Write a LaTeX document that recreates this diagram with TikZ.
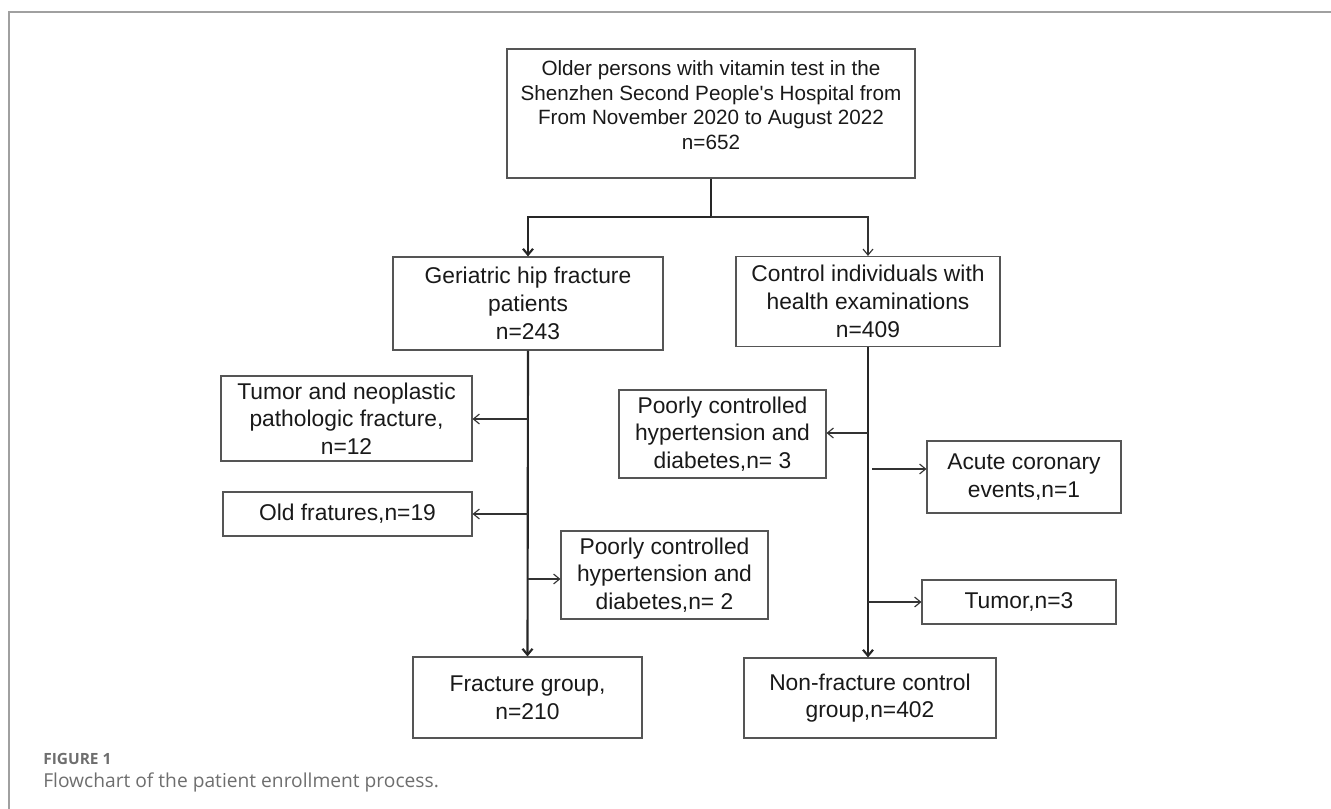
\documentclass[tikz,border=0pt]{standalone}
\usepackage{fontspec}
\setmainfont{Liberation Sans}
\newfontfamily\boxfont{Liberation Sans}
\newfontfamily\capfont{Open Sans}
\usetikzlibrary{arrows.meta,calc}
\definecolor{boxgray}{RGB}{85,85,85}
\definecolor{framegray}{RGB}{160,160,160}
\definecolor{capgray}{RGB}{110,110,110}
\definecolor{txt}{RGB}{25,25,25}
\begin{document}
\begin{tikzpicture}[x=0.75pt,y=-0.75pt,
  box/.style={draw=boxgray, line width=0.85pt, inner sep=0pt, align=center, text=txt,
    font=\boxfont\fontsize{17.1}{20.8}\selectfont},
  topfont/.style={inner sep=0pt, align=center, text=txt, font=\boxfont\fontsize{15.5}{18.5}\selectfont},
  tip/.style={-{Straight Barb[length=4.5pt,width=7.5pt]}},
  trunk/.style={draw=black!85, line width=1.6pt},
  side/.style={draw=black!80, line width=0.85pt},
  frameline/.style={draw=framegray, line width=1.1pt}]
\useasboundingbox (0,0) rectangle (1331,809);
% frame
\coordinate (fc) at (9,12);
\coordinate (fr) at (1331,12);
\coordinate (fb) at (9,809);
\draw[frameline] (fr) -- (fc) -- (fb);
% boxes
\node[box, minimum width=306pt, minimum height=96.75pt] (top) at (711,113.5) {};
\node[topfont] (toptext) at (711,105) {Older persons with vitamin test in the\\Shenzhen Second People's Hospital from\\From November 2020 to August 2022\\n=652};
\node[box, minimum width=202.5pt, minimum height=69.75pt] (geri) at (528,303.5) {Geriatric hip fracture\\patients\\n=243};
\node[box, minimum width=198pt, minimum height=67.5pt] (ctrl) at (868,301.5) {Control individuals with\\health examinations\\n=409};
\node[box, minimum width=188.25pt, minimum height=63.75pt] (tneo) at (346.5,418.5) {Tumor and neoplastic\\pathologic fracture,\\n=12};
\node[box, minimum width=186.75pt, minimum height=33pt] (old) at (347.5,514) {Old fratures,n=19};
\node[box, minimum width=155.25pt, minimum height=66pt] (poor2) at (664.5,575) {Poorly controlled\\hypertension and\\diabetes,n= 2};
\node[box, minimum width=171.75pt, minimum height=60.75pt] (frac) at (527.5,697.5) {Fracture group,\\n=210};
\node[box, minimum width=155.25pt, minimum height=66pt] (poor3) at (722.5,434) {Poorly controlled\\hypertension and\\diabetes,n= 3};
\node[box, minimum width=145.5pt, minimum height=54pt] (acute) at (1024,477) {Acute coronary\\events,n=1};
\node[box, minimum width=145.5pt, minimum height=33pt] (tum3) at (1019,602) {Tumor,n=3};
\node[box, minimum width=189pt, minimum height=60pt] (nonf) at (870,698) {Non-fracture control\\group,n=402};
% caption
\node[anchor=base west, inner sep=0pt, text=capgray, font=\capfont\bfseries\fontsize{11.6}{14}\selectfont] (figlab) at (43,764) {FIGURE 1};
\node[anchor=base west, inner sep=0pt, text=capgray, font=\capfont\fontsize{14.4}{17}\selectfont] (figcap) at (43,787) {Flowchart of the patient enrollment process.};
% connectors
\coordinate (split) at (711,217);
\draw[trunk, tip] (top.south) -- (split) -| (geri.north);
\draw[side, tip] (split) -| (ctrl.north);
\draw[trunk, tip] (geri.south) -- (frac.north);
\draw[trunk, tip] (ctrl.south) -- (ctrl.south |- nonf.north);
\coordinate (l1) at (geri.south |- 0,419);
\coordinate (l2) at (geri.south |- 0,514);
\coordinate (l3) at (geri.south |- 0,579);
\draw[side, tip] (l1) -- (l1 -| tneo.east);
\draw[side, tip] (l2) -- (l2 -| old.east);
\draw[side, tip] (l3) -- (l3 -| poor2.west);
\coordinate (r1) at (ctrl.south |- 0,433);
\coordinate (r2) at ($(ctrl.south |- 0,469)+(4,0)$);
\coordinate (r3) at (ctrl.south |- 0,602);
\draw[side, tip] (r1) -- (r1 -| poor3.east);
\draw[side, tip] (r2) -- (r2 -| acute.west);
\draw[side, tip] (r3) -- (r3 -| tum3.west);
\end{tikzpicture}
\end{document}
